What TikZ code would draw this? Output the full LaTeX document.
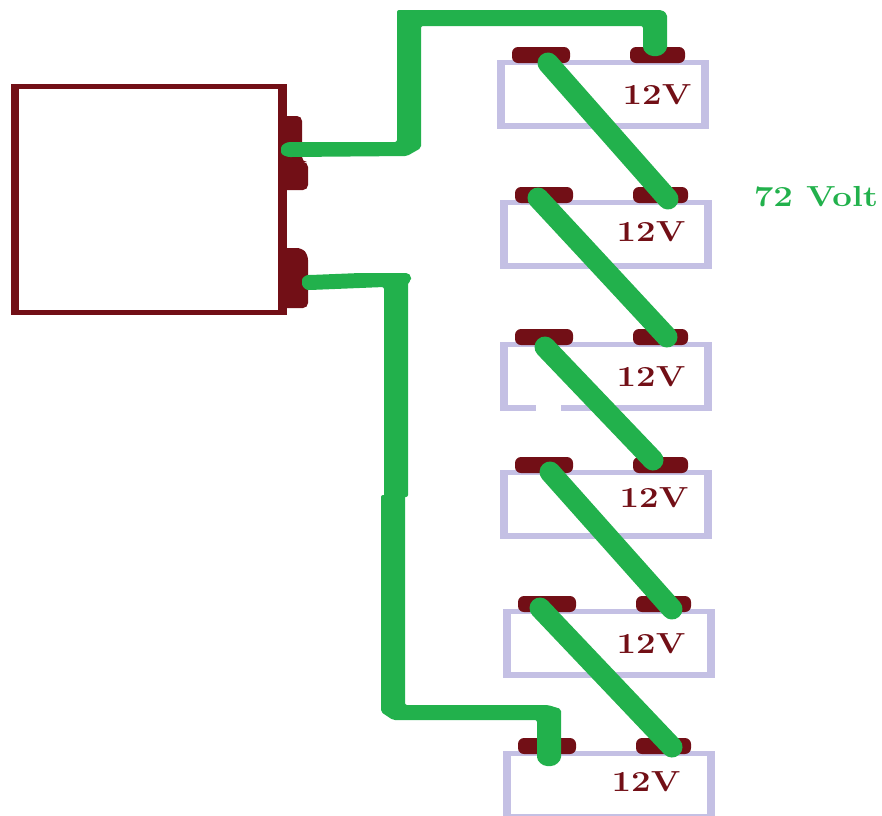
\documentclass[tikz,border=0pt]{standalone}
\definecolor{wire}{HTML}{22B14C}
\definecolor{term}{HTML}{720F16}
\definecolor{batt}{HTML}{C4C0E4}
\tikzset{
  hwire/.style={draw=none,fill=wire},
  link/.style={draw=wire,line width=21pt,line cap=round},
  terml/.style={fill=term,rounded corners=6pt},
  lab/.style={font=\bfseries\fontsize{29}{29}\selectfont,text=term,xscale=1.2,inner sep=0},
}
\begin{document}
\begin{tikzpicture}[x=1pt,y=-1pt]
\useasboundingbox (0,0) rectangle (882,815);
% controller
\fill[term] (11,84) rectangle (287,315);
\fill[white] (19,89) rectangle (278,310);
\fill[terml,rounded corners=5pt] (280,116) -- (302,116) -- (302,162) -- (308,162) -- (308,190) -- (280,190) -- cycle;
\fill[terml,rounded corners=5pt] (280,248) -- (302,248) -- (308,255) -- (308,308) -- (280,308) -- cycle;
% batteries: left top labelx labely
\foreach \n/\a/\b/\tx/\ty in {
 A/497/60/657/95,
 B/500/200/651/232,
 C/500/342/651/377,
 D/500/470/654/498,
 E/503/609/651/644,
 F/503/751/646/782}{
  \fill[batt] (\a,\b) rectangle (\a+212,\b+69);
  \fill[white] (\a+8,\b+5) rectangle (\a+204,\b+63);
  \fill[terml] (\a+15,\b-13) rectangle (\a+73,\b+3);
  \fill[terml] (\a+133,\b-13) rectangle (\a+188,\b+3);
  \node[lab] (\n t) at (\tx,\ty) {12V};
}
\fill[white] (536,404) rectangle (561,412);
\node[font=\bfseries\fontsize{29}{29}\selectfont,text=wire,xscale=1.2,inner sep=0] (volt) at (816,197) {72 Volt};
% series links
\coordinate (a1) at (548,63); \coordinate (b2) at (668,199);
\coordinate (b1) at (538,198); \coordinate (c2) at (667,337);
\coordinate (c1) at (545,347); \coordinate (d2) at (653,460);
\coordinate (d1) at (550,472); \coordinate (e2) at (672,609);
\coordinate (e1) at (540,608); \coordinate (f2) at (672,747);
\draw[link] (a1) -- (b2);
\draw[link] (b1) -- (c2);
\draw[link] (c1) -- (d2);
\draw[link] (d1) -- (e2);
\draw[link] (e1) -- (f2);
% main wires
\fill[hwire,rounded corners=2pt] (281,150) to[out=90,in=180] (292,142) -- (397,142) -- (397,10) -- (662,10) -- (667,14) -- (667,45) to[out=-90,in=0] (655,56) to[out=180,in=-90] (643,45) -- (643,26) -- (421,26) -- (421,148) -- (407,156) -- (292,157) to[out=180,in=-90] (281,150) -- cycle;
\fill[hwire,rounded corners=2pt] (302,282) to[out=90,in=180] (310,275) -- (360,273) -- (408,273) -- (411,276) -- (411,281) -- (408,282) -- (408,497) -- (384,497) -- (384,287) -- (310,290) to[out=180,in=-90] (302,282) -- cycle;
\fill[hwire,rounded corners=2pt] (381,495) -- (405,495) -- (405,705) -- (548,705) -- (561,709) -- (561,755) to[out=-90,in=0] (549,766) to[out=180,in=-90] (537,755) -- (537,720) -- (393,720) -- (381,712) -- cycle;
\end{tikzpicture}
\end{document}
